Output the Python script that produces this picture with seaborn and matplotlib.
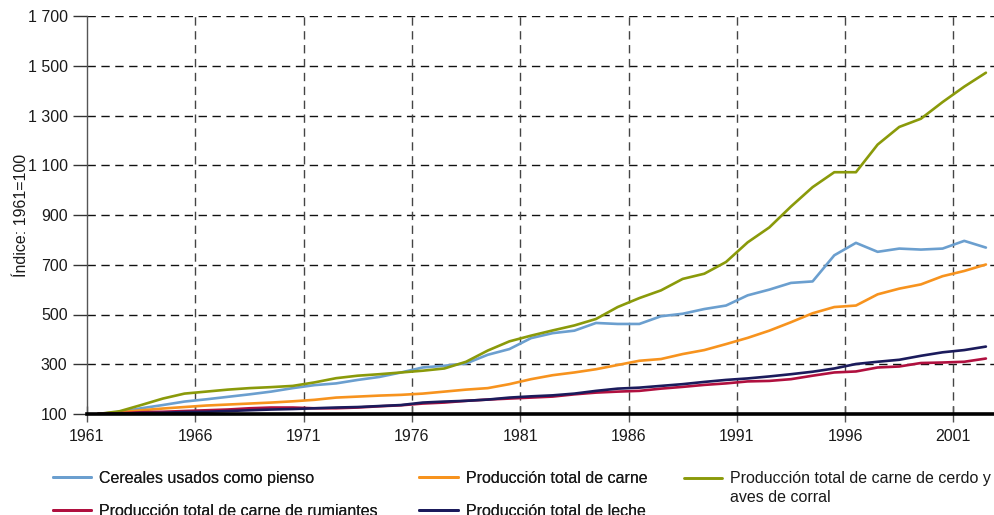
import numpy as np
import pandas as pd
import matplotlib
matplotlib.use("Agg")
import matplotlib.pyplot as plt
import seaborn as sns

# ---- data (index 1961=100) ----
years = np.arange(1961, 2003)

cereales = [100, 108, 123, 136, 150, 159, 169, 179, 190, 204,
            216, 223, 237, 249, 267, 287, 294, 303, 338, 361,
            405, 425, 435, 466, 462, 462, 493, 503, 522, 536,
            577, 600, 627, 633, 738, 788, 752, 765, 761, 765,
            796, 769]
carne = [100, 107, 115, 122, 128, 134, 138, 142, 146, 151,
         157, 166, 170, 174, 177, 182, 190, 198, 204, 220,
         240, 256, 267, 280, 297, 314, 321, 341, 357, 381,
         406, 435, 469, 505, 530, 536, 581, 604, 621, 654,
         675, 701]
cerdo_aves = [100, 111, 136, 162, 182, 190, 198, 204, 208, 213,
              227, 244, 254, 260, 267, 274, 283, 310, 355, 392,
              415, 436, 456, 482, 530, 566, 597, 643, 664, 711,
              790, 850, 934, 1012, 1072, 1072, 1183, 1254, 1287, 1354,
              1416, 1472]
rumiantes = [100, 103, 107, 109, 112, 115, 118, 123, 126, 126,
             123, 123, 126, 131, 135, 142, 146, 153, 158, 162,
             166, 170, 179, 186, 190, 193, 202, 209, 217, 223,
             231, 233, 240, 254, 267, 271, 287, 291, 305, 307,
             310, 323]
leche = [100, 101, 104, 105, 108, 109, 112, 115, 118, 120,
         123, 126, 128, 132, 136, 146, 150, 153, 158, 166,
         171, 175, 182, 193, 202, 206, 213, 220, 229, 237,
         243, 251, 260, 270, 283, 301, 310, 318, 334, 348,
         357, 371]

series_names = [
    "Cereales usados como pienso",
    "Producción total de carne",
    "Producción total de carne de cerdo y\naves de corral",
    "Producción total de carne de rumiantes",
    "Producción total de leche",
]
series_values = [cereales, carne, cerdo_aves, rumiantes, leche]
series_colors = ["#6b9fcf", "#f7931e", "#8a9a0a", "#b0103f", "#1b1b5c"]

xtick_years = [1961, 1966, 1971, 1976, 1981, 1986, 1991, 1996, 2001]
ytick_values = [100, 300, 500, 700, 900, 1100, 1300, 1500, 1700]
ytick_labels = ["100", "300", "500", "700", "900", "1 100", "1 300", "1 500", "1 700"]
ylabel = "Índice: 1961=100"

# ---- long form table ----
frames = []
for name, vals in zip(series_names, series_values):
    frames.append(pd.DataFrame({"year": years + 0.5, "value": vals, "serie": name}))
df = pd.concat(frames, ignore_index=True)

sns.set_theme(style="white")
plt.rcParams["font.family"] = ["Liberation Sans", "DejaVu Sans"]
text_color = "#1a1a1a"
fs = 11.5

fig = plt.figure(figsize=(9.95, 5.15), dpi=100)
ax = fig.add_axes([87 / 995, 1 - 414 / 515, 908 / 995, 398 / 515])

sns.lineplot(data=df, x="year", y="value", hue="serie",
             palette=dict(zip(series_names, series_colors)),
             hue_order=series_names, linewidth=1.9, ax=ax, legend=True)

ax.set_xlim(1961, 2002.92)
ax.set_ylim(100, 1700)

# grid
ax.set_xticks(xtick_years)
ax.set_xticklabels([str(y) for y in xtick_years])
ax.set_yticks(ytick_values)
ax.set_yticklabels(ytick_labels)
for v in ytick_values[1:]:
    ax.axhline(v, color="#111111", linewidth=1.0, dashes=(6, 4), zorder=0)
for yr in xtick_years[1:]:
    ax.axvline(yr, color="#444444", linewidth=1.0, dashes=(6, 4), zorder=0)

# spines and ticks
for side in ["top", "right"]:
    ax.spines[side].set_visible(False)
ax.spines["left"].set_color("#555555")
ax.spines["left"].set_linewidth(1.0)
ax.spines["bottom"].set_color("#000000")
ax.spines["bottom"].set_linewidth(2.6)
ax.spines["bottom"].set_zorder(5)

ax.tick_params(axis="y", direction="out", length=10, width=1, color="#333333",
               labelsize=fs, labelcolor=text_color, pad=4, left=True)
ax.tick_params(axis="x", direction="inout", length=12, width=1, color="#555555",
               labelsize=fs, labelcolor=text_color, pad=5, bottom=True)

ax.set_xlabel("")
ax.set_ylabel(ylabel, fontsize=fs, color=text_color)
ax.yaxis.set_label_coords(-0.064, 0.5)

# legend below the chart: two columns of pairs + the two-line item apart
handles, labels = ax.get_legend_handles_labels()
ax.get_legend().remove()
legend_top = 1 - 471 / 515

order = [0, 3, 1, 4]
leg_a = fig.legend([handles[i] for i in order], [labels[i] for i in order],
                   loc="upper left", bbox_to_anchor=(53 / 995, legend_top),
                   ncol=2, frameon=False, fontsize=fs, handlelength=2.4,
                   handletextpad=0.5, columnspacing=2.6, labelspacing=1.13,
                   borderpad=0, borderaxespad=0)
leg_b = fig.legend([handles[2]], [labels[2]],
                   loc="upper left", bbox_to_anchor=(684 / 995, legend_top),
                   frameon=False, fontsize=fs, handlelength=2.4,
                   handletextpad=0.5, borderpad=0, borderaxespad=0)
fig.add_artist(leg_a)

for leg in (leg_a, leg_b):
    for t in leg.get_texts():
        t.set_color(text_color)
        t.set_linespacing(1.3)
    for line in leg.get_lines():
        line.set_linewidth(2.1)

# put the green key next to the first text line instead of the middle
key = leg_b.get_lines()[0]
key.set_ydata(np.asarray(key.get_ydata()) + 7.6)

fig.savefig("out.png", dpi=100)
